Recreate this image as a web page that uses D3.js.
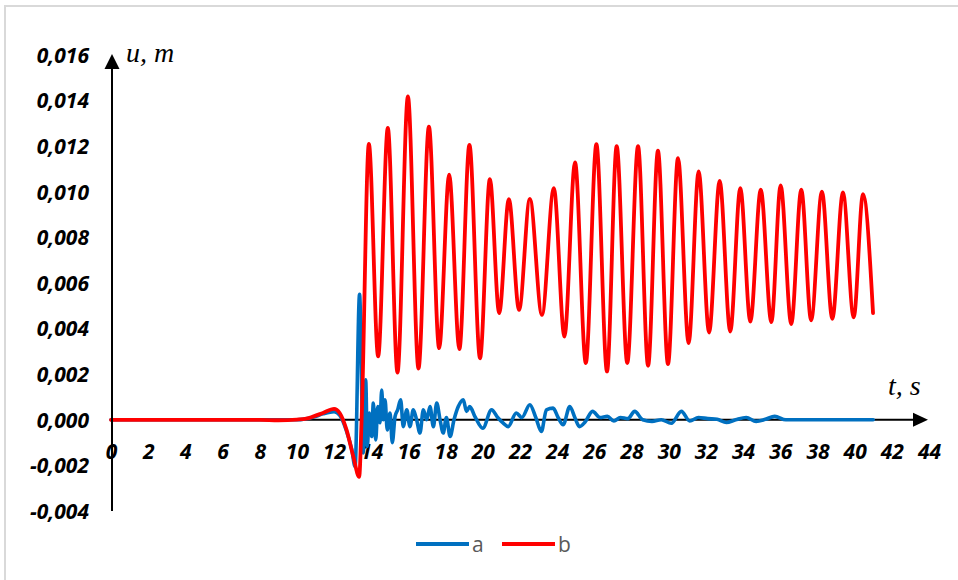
<!DOCTYPE html>
<html>
<head>
<meta charset="utf-8">
<script src="https://cdn.jsdelivr.net/npm/d3@7"></script>
<style>
  html, body { margin: 0; padding: 0; background: #fff; }
  svg { display: block; }
  .tick-label { font-family: "Open Sans", sans-serif; font-weight: 700; font-style: italic; font-size: 21px; fill: #000; }
  .axis-title { font-family: "Liberation Serif", serif; font-style: italic; font-size: 28px; fill: #000; }
  .legend-text { font-family: "Open Sans", sans-serif; font-size: 21px; fill: #595959; }
</style>
</head>
<body>
<svg id="chart" width="958" height="580"></svg>
<script>
// Tick values
const xTicks = [0, 2, 4, 6, 8, 10, 12, 14, 16, 18, 20, 22, 24, 26, 28, 30, 32, 34, 36, 38, 40, 42, 44];
const yTicks = [-0.004, -0.002, 0, 0.002, 0.004, 0.006, 0.008, 0.010, 0.012, 0.014, 0.016];

// Series b (red): time, s
const bTime = [0, 2, 4, 6, 8, 9, 10, 10.5, 10.9, 11.4, 12.0, 12.3, 12.67, 13.03, 13.35, 13.48,
  13.87, 14.37, 14.89, 15.41, 15.97, 16.54, 17.1, 17.65, 18.19, 18.74, 19.28, 19.85, 20.38, 20.88,
  21.4, 21.95, 22.53, 23.18, 23.82, 24.39, 24.96, 25.54, 26.11, 26.68, 27.2, 27.77, 28.35, 28.89,
  29.42, 29.96, 30.5, 31.07, 31.61, 32.17, 32.74, 33.31, 33.85, 34.39, 34.95, 35.52, 36.02, 36.59,
  37.13, 37.66, 38.24, 38.8, 39.37, 39.95, 40.45, 40.99];
// Series b (red): displacement, m
const bValue = [0, 0, 0, 0, 0, -0.00002, 0.00001, 0.00005, 0.00015, 0.0003, 0.00048, 0.0003, -0.00044, -0.0016, -0.0025, 0,
  0.0121, 0.00278, 0.0128, 0.00207, 0.01418, 0.00225, 0.01286, 0.00314, 0.01075, 0.0031, 0.01206, 0.0027, 0.01056, 0.00468,
  0.00968, 0.00482, 0.00969, 0.0046, 0.01016, 0.00365, 0.01129, 0.00249, 0.01209, 0.00212, 0.012, 0.00249, 0.012, 0.00237,
  0.0118, 0.00244, 0.01148, 0.00336, 0.01089, 0.00383, 0.01048, 0.00387, 0.01016, 0.00431, 0.01009, 0.00428, 0.01028, 0.0042,
  0.01009, 0.00436, 0.01001, 0.00443, 0.00997, 0.00449, 0.0099, 0.00468];

// Series a (blue): time, s
const aTime = [0, 4, 8, 10, 10.9, 11.4, 12.0, 12.3, 12.67, 12.95, 13.13, 13.37, 13.57, 13.7, 13.79, 13.89,
  14.02, 14.11, 14.24, 14.35, 14.47, 14.56, 14.65, 14.74, 14.86, 15.01, 15.13, 15.28, 15.42, 15.58,
  15.72, 15.91, 16.08, 16.26, 16.44, 16.62, 16.8, 16.98, 17.16, 17.34, 17.52, 17.7, 17.87, 18.04,
  18.24, 18.45, 18.68, 18.95, 19.12, 19.3, 19.57, 20.0, 20.47, 20.8, 21.1, 21.36, 21.8, 22.1, 22.53,
  22.85, 23.15, 23.42, 23.78, 24.05, 24.32, 24.68, 24.95, 25.2, 25.5, 25.9, 26.3, 26.7, 27.05, 27.4,
  27.8, 28.17, 28.6, 29.1, 29.6, 30.14, 30.68, 31.13, 31.6, 32.1, 32.6, 33.1, 33.6, 34.17, 34.7,
  35.2, 35.7, 36.3, 37, 38, 39, 40, 41];
// Series a (blue): displacement, m
const aValue = [0, 0, 0, 0, 0.00012, 0.00026, 0.00036, 0.0002, -0.0005, -0.0013, -0.00205, 0.0055, -0.00145, 0.00175, -0.00117, 0.0003,
  -0.00073, 0.00073, -0.00088, 0.00058, -0.00013, 0.0013, 0, 0.00088, -0.00044, 0.0003, -0.001, 0.00015, 0.00044, 0.00088,
  -0.0003, 0.00044, -0.0003, 0.00044, 0, -0.00058, 0.00044, 0, 0.00058, -0.0003, 0.00073, 0, -0.00058, 0.0001,
  -0.00073, 0, 0.00058, 0.00088, 0.00037, 0.00058, 0.00015, -0.00037, 0.00044, 0.0001, -0.00015, -0.0003, 0.0003, 0.0001, 0.00066,
  0.0001, -0.00051, 0.00044, 0.00051, 0.0001, -0.00022, 0.00058, 0.0001, -0.0003, -0.0001, 0.00037, 0.0001, 0.00015, -0.00005, 0.0001,
  0.00005, 0.00037, 0, -0.00007, 0, -0.00015, 0.00037, -0.00005, 0.0001, 0.00005, 0.00002, -0.00012, 0, 0.0001, -0.00007,
  0.00002, 0.00015, 0, 0, 0, 0, 0, 0];

const svg = d3.select("#chart");

// Outer frame (left and top edges visible)
svg.append("rect").attr("x", 5).attr("y", 6).attr("width", 1000).attr("height", 1000)
  .attr("fill", "none").attr("stroke", "#d9d9d9").attr("stroke-width", 2);

const x = d3.scaleLinear().domain([0, 44]).range([111, 929]);
const y = d3.scaleLinear().domain([-0.004, 0.016]).range([511, 55]);

const fmt = v => {
  const s = Math.abs(v).toFixed(3).replace(".", ",");
  return (v < -1e-9 ? "-" : "") + s;
};

// Y tick labels
const yAxis = d3.axisLeft(y).tickValues(yTicks).tickSize(0).tickPadding(0).tickFormat(fmt);
const gy = svg.append("g").attr("transform", "translate(89,0)").call(yAxis);
gy.select(".domain").remove();
gy.selectAll("text").attr("class", "tick-label").attr("font-family", null).attr("font-size", null)
  .attr("text-anchor", "end").attr("dy", "0.35em").attr("x", 0);

// X tick labels
const xAxis = d3.axisBottom(x).tickValues(xTicks).tickSize(0).tickPadding(0).tickFormat(d => String(d));
const gx = svg.append("g").attr("transform", "translate(0,452)").call(xAxis);
gx.select(".domain").remove();
gx.selectAll("text").attr("class", "tick-label").attr("font-family", null).attr("font-size", null)
  .attr("dy", "0.35em").attr("y", 0);

// Smoothed series lines
const line = d3.line().x(d => x(d[0])).y(d => y(d[1])).curve(d3.curveMonotoneX);
const aData = aTime.map((t, i) => [t, aValue[i]]);
const bData = bTime.map((t, i) => [t, bValue[i]]);

// Horizontal axis with arrowhead
const x0 = x(0), y0 = y(0);
svg.append("line").attr("x1", x0 + 1).attr("x2", 915).attr("y1", y0).attr("y2", y0)
  .attr("stroke", "#000").attr("stroke-width", 2);
svg.append("path").attr("d", `M913,${y0 - 7}L928,${y0}L913,${y0 + 7}Z`).attr("fill", "#000");

svg.append("path").attr("d", line(aData)).attr("fill", "none")
  .attr("stroke", "#0070c0").attr("stroke-width", 3.6).attr("stroke-linejoin", "round").attr("stroke-linecap", "round");
svg.append("path").attr("d", line(bData)).attr("fill", "none")
  .attr("stroke", "#ff0000").attr("stroke-width", 3.8).attr("stroke-linejoin", "round").attr("stroke-linecap", "round");

// Vertical axis with arrowhead
svg.append("line").attr("x1", x0 + 1).attr("x2", x0 + 1).attr("y1", y(-0.004)).attr("y2", 68)
  .attr("stroke", "#000").attr("stroke-width", 2);
svg.append("path").attr("d", `M${x0 + 1 - 7.5},69L${x0 + 1},54L${x0 + 1 + 7.5},69Z`).attr("fill", "#000");

// Axis titles
svg.append("text").attr("class", "axis-title").attr("x", 126).attr("y", 62).text("u, m");
svg.append("text").attr("class", "axis-title").attr("x", 888).attr("y", 395).text("t, s");

// Legend
const legend = [{ name: "a", color: "#0070c0", x: 416 }, { name: "b", color: "#ff0000", x: 502 }];
legend.forEach(l => {
  svg.append("line").attr("x1", l.x).attr("x2", l.x + 53).attr("y1", 544).attr("y2", 544)
    .attr("stroke", l.color).attr("stroke-width", 4);
  svg.append("text").attr("class", "legend-text").attr("x", l.x + 56).attr("y", 552).text(l.name);
});
</script>
</body>
</html>
